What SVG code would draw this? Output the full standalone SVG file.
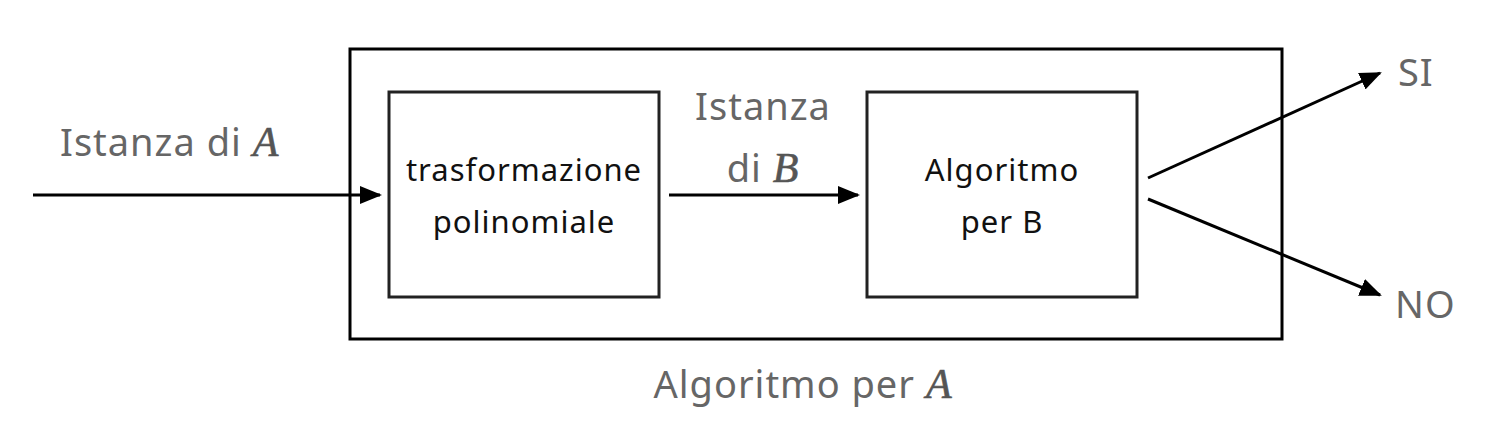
<svg xmlns="http://www.w3.org/2000/svg" width="1498" height="426" viewBox="0 0 1498 426">
<defs>
<marker id="ah" markerWidth="22" markerHeight="18" refX="20" refY="9" orient="auto" markerUnits="userSpaceOnUse" viewBox="0 0 22 18">
<path d="M0,0 L22,9 L0,18 Z" fill="#000"/>
</marker>
<style>
.box{fill:#fff;stroke:#000;stroke-width:3}
.inner{fill:#fff;stroke:#222;stroke-width:3}
.conn{stroke:#000;stroke-width:3;fill:none}
.lbl{font-family:"Noto Sans",sans-serif;font-size:38px;fill:#666;letter-spacing:1px}
.nt{font-family:"Noto Sans",sans-serif;font-size:31px;fill:#111;text-anchor:middle;letter-spacing:1px}
.m{font-family:"Liberation Serif",serif;font-style:italic;font-size:42px;fill:#555;stroke:#555;stroke-width:0.6}
</style>
</defs>
<g id="outer"><rect class="box" x="350" y="49" width="932" height="290"/></g>
<g id="trasformazione">
<rect class="inner" x="389" y="92" width="270" height="205"/>
<text class="nt" x="524" y="181">trasformazione</text>
<text class="nt" x="524" y="233">polinomiale</text>
</g>
<g id="algoritmoB">
<rect class="inner" x="867" y="92" width="270" height="205"/>
<text class="nt" x="1002" y="181">Algoritmo</text>
<text class="nt" x="1002" y="233">per B</text>
</g>
<g id="connectors">
<line class="conn" x1="33" y1="195" x2="380" y2="195" marker-end="url(#ah)"/>
<line class="conn" x1="669" y1="195" x2="858" y2="195" marker-end="url(#ah)"/>
<line class="conn" x1="1148" y1="178" x2="1380" y2="73" marker-end="url(#ah)"/>
<line class="conn" x1="1148" y1="199" x2="1380" y2="295" marker-end="url(#ah)"/>
</g>
<g id="labels">
<text class="lbl" x="60" y="156">Istanza di <tspan class="m">A</tspan></text>
<text class="lbl" x="763" y="120" text-anchor="middle">Istanza</text>
<text class="lbl" x="763" y="182" text-anchor="middle">di <tspan class="m">B</tspan></text>
<text class="lbl" x="1398" y="86">SI</text>
<text class="lbl" x="1395" y="318">NO</text>
<text class="lbl" x="803" y="398" text-anchor="middle">Algoritmo per <tspan class="m">A</tspan></text>
</g>
</svg>
